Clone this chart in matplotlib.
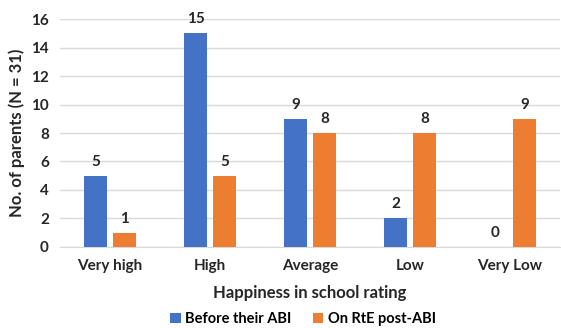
import matplotlib.pyplot as plt
import numpy as np

categories = ["Very high", "High", "Average", "Low", "Very Low"]
before_abi = [5, 15, 9, 2, 0]
post_abi = [1, 5, 8, 8, 9]
series_names = ["Before their ABI", "On RtE post-ABI"]

plt.rcParams["font.family"] = ["Lato", "DejaVu Sans"]
txt = "#262626"

fig = plt.figure(figsize=(5.61, 3.28), dpi=100)
ax = fig.add_axes([0.107, 0.247, 0.891, 0.695])

x = np.arange(len(categories))
w = 0.23
off = 0.145
b1 = ax.bar(x - off, before_abi, w, color="#4472C4", label=series_names[0], zorder=3)
b2 = ax.bar(x + off, post_abi, w, color="#ED7D31", label=series_names[1], zorder=3)

for bars, vals in ((b1, before_abi), (b2, post_abi)):
    for rect, v in zip(bars, vals):
        ax.text(rect.get_x() + rect.get_width() / 2, v + 0.5, str(v),
                ha="center", va="bottom", fontsize=11, fontweight="bold", color=txt)

ax.set_xlim(-0.5, len(categories) - 0.5)
ax.set_ylim(0, 16)
ax.set_yticks(range(0, 17, 2))
ax.set_xticks(x)
ax.set_xticklabels(categories)
ax.tick_params(axis="both", length=0, labelsize=11, colors=txt)
ax.tick_params(axis="x", pad=9)
ax.tick_params(axis="y", pad=8)
for lab in ax.get_xticklabels() + ax.get_yticklabels():
    lab.set_fontweight("bold")
ax.grid(axis="y", color="#D9D9D9", linewidth=1, zorder=0)
for side in ("top", "right", "left"):
    ax.spines[side].set_visible(False)
ax.spines["bottom"].set_color("#D9D9D9")

ax.set_ylabel("No. of parents (N = 31)", fontsize=12, fontweight="bold", color=txt)
ax.set_xlabel("Happiness in school rating", fontsize=12, fontweight="bold", color=txt, labelpad=8)

fig.legend(handles=[b1, b2], labels=series_names, loc="lower center",
           bbox_to_anchor=(0.54, -0.035), ncol=2, frameon=False,
           handlelength=0.7, handleheight=0.7, handletextpad=0.3, columnspacing=1.5,
           prop={"weight": "bold", "size": 10.5})

fig.savefig("out.png", dpi=100)
